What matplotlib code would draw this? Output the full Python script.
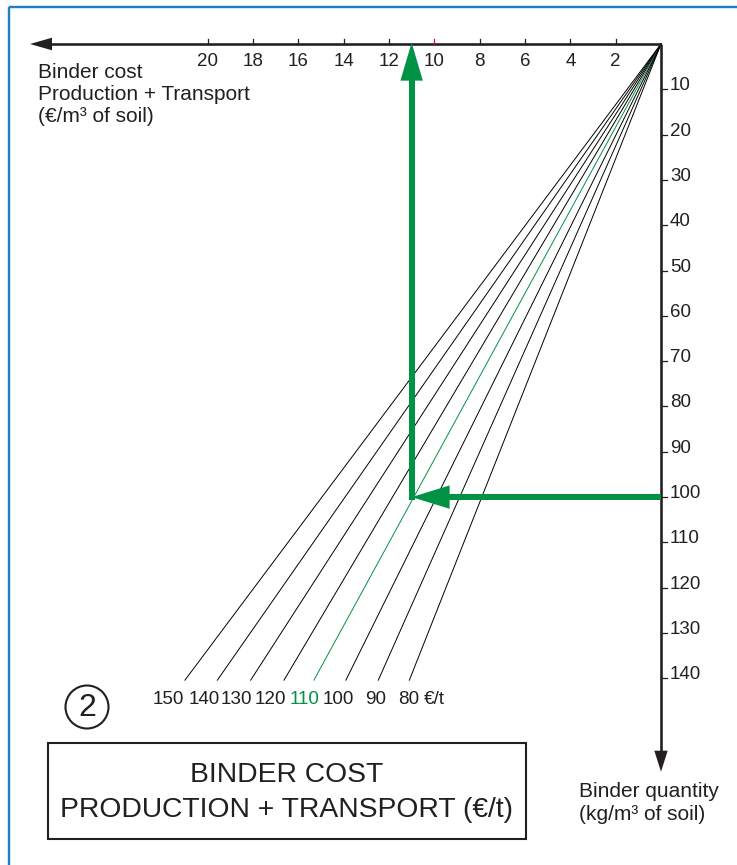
import matplotlib
matplotlib.use("Agg")
import matplotlib.pyplot as plt
from matplotlib.patches import Polygon, Rectangle, Circle
from matplotlib import font_manager
import numpy as np

# ---------------- data ----------------
prices = [150, 140, 130, 120, 110, 100, 90, 80]            # €/t
end_costs = [21.0, 19.57, 18.10, 16.63, 15.31, 13.90, 12.47, 11.10]  # €/m3 at end of each line
end_quantity = 140.4                                        # kg/m3 where lines end
cost_ticks = [2, 4, 6, 8, 10, 12, 14, 16, 18, 20]
quantity_ticks = [10, 20, 30, 40, 50, 60, 70, 80, 90, 100, 110, 120, 130, 140]
highlight_price = 110
example_quantity = 100
example_cost = 11.0

# ---------------- layout ----------------
W, H = 737, 865
OX, OY = 661.0, 44.0          # pixel position of origin
SX, SY = 22.67, 4.531         # pixels per €/m3 and per kg/m3
price_label_x = [168.3, 204.5, 236.7, 270.0, 304.5, 338.8, 375.5, 408.7]

DARK = "#231F20"
GREEN = "#009245"
BLUE = "#1B80C4"
RED = "#E5004F"

names = {f.name for f in font_manager.fontManager.ttflist}
FONT = "Liberation Sans" if "Liberation Sans" in names else "DejaVu Sans"
NARROW = "Liberation Sans Narrow" if "Liberation Sans Narrow" in names else FONT
plt.rcParams["font.family"] = [FONT, "DejaVu Sans"]

fig = plt.figure(figsize=(W / 100, H / 100), dpi=100)
fig.patch.set_facecolor("white")

# data axes: cost to the left, quantity downwards
ax = fig.add_axes([0, 0, 1, 1])
ax.set_xlim(OX / SX, (OX - W) / SX)
ax.set_ylim((H - OY) / SY, -OY / SY)
ax.axis("off")
ax.patch.set_alpha(0)

# layout axes in pixel coordinates (y down)
lay = fig.add_axes([0, 0, 1, 1])
lay.set_xlim(0, W)
lay.set_ylim(H, 0)
lay.axis("off")
lay.patch.set_alpha(0)

def to_px(x, y):
    d = ax.transData.transform((x, y))
    return lay.transData.inverted().transform(d)

def arrow_px(p0, p1, lw_px, head_len, head_half, color, z=5):
    p0 = np.asarray(p0, float); p1 = np.asarray(p1, float)
    u = (p1 - p0) / np.linalg.norm(p1 - p0)
    n = np.array([-u[1], u[0]])
    base = p1 - u * head_len
    lay.plot([p0[0], base[0] + u[0]], [p0[1], base[1] + u[1]], color=color,
             lw=lw_px * 0.72, solid_capstyle="butt", zorder=z)
    lay.add_patch(Polygon([p1, base + n * head_half, base - n * head_half],
                          closed=True, fc=color, ec="none", zorder=z))

# border
lay.plot([9.3, W + 5], [6.7, 6.7], color=BLUE, lw=2.4 * 0.72, solid_capstyle="butt")
lay.plot([9.3, 9.3], [6.7, H + 5], color=BLUE, lw=2.4 * 0.72, solid_capstyle="butt")

# price lines
for p, c in zip(prices, end_costs):
    col = GREEN if p == highlight_price else "black"
    ax.plot([0, c], [0, end_quantity], color=col, lw=0.7, zorder=3)

# axes with arrows
o = to_px(0, 0)
arrow_px(o, to_px((OX - 30) / SX, 0), 2.6, 22, 6.3, DARK, z=4)
arrow_px(o, to_px(0, (771.7 - OY) / SY), 2.6, 21, 6.7, DARK, z=4)

# x ticks + labels
for t in cost_ticks:
    x, y = to_px(t, 0)
    lay.plot([x, x], [y, y - 5.5], color=RED if t == 10 else DARK, lw=0.9, zorder=4)
    lay.text(x, y + 21.5, str(t), ha="center", va="baseline", fontsize=13.5, color=DARK)

# y ticks + labels
for t in quantity_ticks:
    x, y = to_px(0, t)
    lay.plot([x, x + 6.5], [y, y], color=DARK, lw=0.9, zorder=4)
    lay.text(x + 9, y + 1, str(t), ha="left", va="baseline", fontsize=13.5, color=DARK)

# price labels
for p, lx in zip(prices, price_label_x):
    lay.text(lx, 704.3, str(p), ha="center", va="baseline", fontsize=13.6,
             family=[NARROW, FONT], color=GREEN if p == highlight_price else DARK)
lay.text(424, 704.3, "€/t", ha="left", va="baseline", fontsize=13.6,
         family=[NARROW, FONT], color=DARK)

# example arrows
a = to_px(0, example_quantity)
b = to_px(example_cost, example_quantity)
arrow_px(a, b, 6, 38, 11.7, GREEN, z=6)
top = to_px(example_cost, -0.3)
arrow_px((b[0], b[1] + 3), top, 6, 38, 11.2, GREEN, z=6)

# axis titles
lay.text(38.5, 78.3, "Binder cost", ha="left", va="baseline", fontsize=15, color=DARK)
lay.text(38.5, 100.0, "Production + Transport", ha="left", va="baseline", fontsize=15, color=DARK)
lay.text(38.5, 121.5, "(€/m³ of soil)", ha="left", va="baseline", fontsize=15, color=DARK)
lay.text(579.3, 796.7, "Binder quantity", ha="left", va="baseline", fontsize=15, color=DARK)
lay.text(579.3, 820.0, "(kg/m³ of soil)", ha="left", va="baseline", fontsize=15, color=DARK)

# circled number
lay.add_patch(Circle((87, 707), 21.5, fc="none", ec=DARK, lw=1.5))
lay.text(87, 716.5, "2", ha="center", va="baseline", fontsize=23, color=DARK)

# title box
lay.add_patch(Rectangle((48, 743), 478, 96, fc="none", ec=DARK, lw=1.5))
lay.text(287, 781.7, "BINDER COST", ha="center", va="baseline", fontsize=20.3, color=DARK)
lay.text(287, 816.7, "PRODUCTION + TRANSPORT (€/t)", ha="center", va="baseline", fontsize=20.3, color=DARK)

fig.savefig("out.png", dpi=100, facecolor="white")
